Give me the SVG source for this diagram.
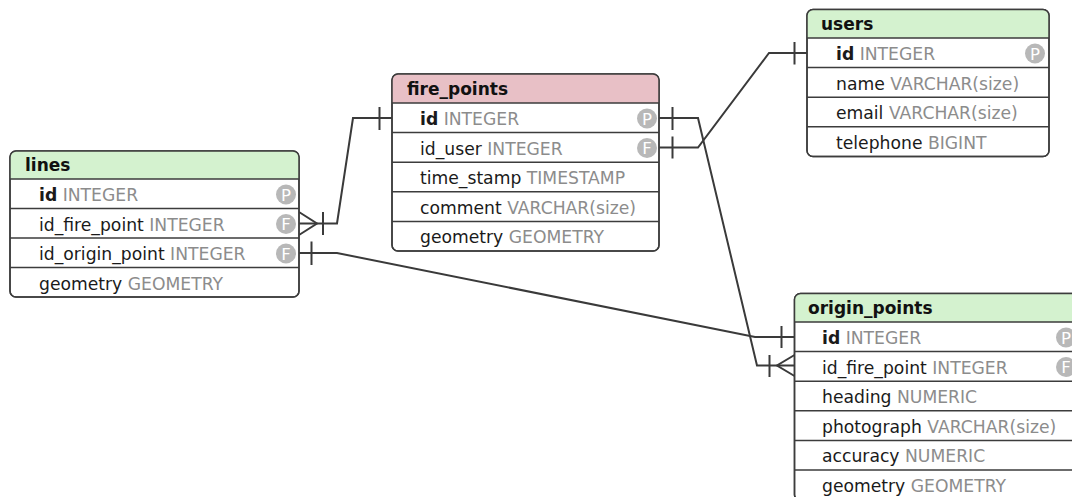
<svg xmlns="http://www.w3.org/2000/svg" width="1072" height="497" viewBox="0 0 1072 497">
<style>
.box{fill:#ffffff;stroke:#3c3c3c;stroke-width:1.5}
.hg{fill:#d4f2cf}
.hp{fill:#e8c0c6}
.sep{stroke:#3c3c3c;stroke-width:1.5}
.title{font-family:"DejaVu Sans",sans-serif;font-weight:bold;font-size:17px;fill:#111}
.f{font-family:"DejaVu Sans",sans-serif;font-size:17.2px;fill:#1a1a1a}
.t{fill:#8c8c8c}
.b{font-weight:bold}
.badge{fill:#b8b8b8}
.bl{font-family:"DejaVu Sans",sans-serif;font-size:16.5px;fill:#ffffff;text-anchor:middle}
.c{fill:none;stroke:#3a3a3a;stroke-width:2}
</style>
<defs>
<clipPath id="cl"><rect x="10" y="151" width="289" height="146" rx="6"/></clipPath>
<clipPath id="cf"><rect x="392" y="74" width="267" height="177" rx="6"/></clipPath>
<clipPath id="cu"><rect x="807" y="9.5" width="242" height="147" rx="6"/></clipPath>
<clipPath id="co"><rect x="794.5" y="293.5" width="285" height="207" rx="6"/></clipPath>
</defs>

<g id="connectors">
<path class="c" d="M299,223.5 H337 L353,118 H392"/>
<path class="c" d="M299,212 L317,223.5 L299,235 M323,212 V235 M379.5,107 V130"/>
<path class="c" d="M299,253 H337 L755,337 H794.5"/>
<path class="c" d="M311.5,241.5 V265 M781.5,326 V348"/>
<path class="c" d="M659,118 H698 L757,365.5 H794.5"/>
<path class="c" d="M672.5,107 V130 M794.5,355 L777,365.5 L794.5,376 M769.5,355 V377"/>
<path class="c" d="M659,147.5 H698 L769,53 H807"/>
<path class="c" d="M672.5,136.5 V158.5 M794.5,42 V64.5"/>
</g>

<g id="lines">
<rect class="box" x="10" y="151" width="289" height="146" rx="6"/>
<rect class="hg" x="10" y="151" width="289" height="28" clip-path="url(#cl)"/>
<path class="sep" d="M10,179 H299 M10,208.5 H299 M10,238 H299 M10,267.5 H299"/>
<rect x="10" y="151" width="289" height="146" rx="6" fill="none" stroke="#3c3c3c" stroke-width="1.5"/>
<text class="title" x="25" y="171">lines</text>
<text class="f" x="39" y="201"><tspan class="b">id</tspan> <tspan class="t">INTEGER</tspan></text>
<text class="f" x="39" y="230.5">id_fire_point <tspan class="t">INTEGER</tspan></text>
<text class="f" x="39" y="260">id_origin_point <tspan class="t">INTEGER</tspan></text>
<text class="f" x="39" y="289.5">geometry <tspan class="t">GEOMETRY</tspan></text>
<circle class="badge" cx="286" cy="194.5" r="10"/><text class="bl" x="286" y="200.5">P</text>
<circle class="badge" cx="286" cy="224" r="10"/><text class="bl" x="286" y="230">F</text>
<circle class="badge" cx="286" cy="253.5" r="10"/><text class="bl" x="286" y="259.5">F</text>
</g>

<g id="fire_points">
<rect class="box" x="392" y="74" width="267" height="177" rx="6"/>
<rect class="hp" x="392" y="74" width="267" height="29" clip-path="url(#cf)"/>
<path class="sep" d="M392,103 H659 M392,132.6 H659 M392,162.2 H659 M392,191.8 H659 M392,221.4 H659"/>
<rect x="392" y="74" width="267" height="177" rx="6" fill="none" stroke="#3c3c3c" stroke-width="1.5"/>
<text class="title" x="407" y="95">fire_points</text>
<text class="f" x="420" y="125"><tspan class="b">id</tspan> <tspan class="t">INTEGER</tspan></text>
<text class="f" x="420" y="154.6">id_user <tspan class="t">INTEGER</tspan></text>
<text class="f" x="420" y="184.2">time_stamp <tspan class="t">TIMESTAMP</tspan></text>
<text class="f" x="420" y="213.8">comment <tspan class="t">VARCHAR(size)</tspan></text>
<text class="f" x="420" y="243.4">geometry <tspan class="t">GEOMETRY</tspan></text>
<circle class="badge" cx="647" cy="118.5" r="10"/><text class="bl" x="647" y="124.5">P</text>
<circle class="badge" cx="647" cy="148" r="10"/><text class="bl" x="647" y="154">F</text>
</g>

<g id="users">
<rect class="box" x="807" y="9.5" width="242" height="147" rx="6"/>
<rect class="hg" x="807" y="9.5" width="242" height="28.5" clip-path="url(#cu)"/>
<path class="sep" d="M807,38 H1049 M807,67.6 H1049 M807,97.2 H1049 M807,126.8 H1049"/>
<rect x="807" y="9.5" width="242" height="147" rx="6" fill="none" stroke="#3c3c3c" stroke-width="1.5"/>
<text class="title" x="821" y="30">users</text>
<text class="f" x="836" y="60"><tspan class="b">id</tspan> <tspan class="t">INTEGER</tspan></text>
<text class="f" x="836" y="89.6">name <tspan class="t">VARCHAR(size)</tspan></text>
<text class="f" x="836" y="119.2">email <tspan class="t">VARCHAR(size)</tspan></text>
<text class="f" x="836" y="148.8">telephone <tspan class="t">BIGINT</tspan></text>
<circle class="badge" cx="1035" cy="53.5" r="10"/><text class="bl" x="1035" y="59.5">P</text>
</g>

<g id="origin_points">
<rect class="box" x="794.5" y="293.5" width="285" height="207" rx="6"/>
<rect class="hg" x="794.5" y="293.5" width="285" height="28.5" clip-path="url(#co)"/>
<path class="sep" d="M794.5,322 H1080 M794.5,351.6 H1080 M794.5,381.2 H1080 M794.5,410.8 H1080 M794.5,440.4 H1080 M794.5,470 H1080"/>
<rect x="794.5" y="293.5" width="285" height="207" rx="6" fill="none" stroke="#3c3c3c" stroke-width="1.5"/>
<text class="title" x="808" y="314">origin_points</text>
<text class="f" x="822" y="344"><tspan class="b">id</tspan> <tspan class="t">INTEGER</tspan></text>
<text class="f" x="822" y="373.6">id_fire_point <tspan class="t">INTEGER</tspan></text>
<text class="f" x="822" y="403.2">heading <tspan class="t">NUMERIC</tspan></text>
<text class="f" x="822" y="432.8">photograph <tspan class="t">VARCHAR(size)</tspan></text>
<text class="f" x="822" y="462.4">accuracy <tspan class="t">NUMERIC</tspan></text>
<text class="f" x="822" y="492">geometry <tspan class="t">GEOMETRY</tspan></text>
<circle class="badge" cx="1066" cy="337.5" r="10"/><text class="bl" x="1066" y="343.5">P</text>
<circle class="badge" cx="1066" cy="367" r="10"/><text class="bl" x="1066" y="373">F</text>
</g>
</svg>
